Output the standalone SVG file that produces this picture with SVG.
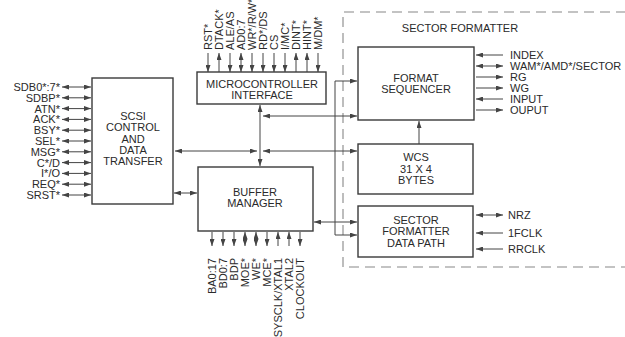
<svg xmlns="http://www.w3.org/2000/svg" width="625" height="337" viewBox="0 0 625 337">
<style>
text{font-family:"Liberation Sans",Arial,sans-serif;font-size:11px;fill:#2a2a2a}
.c{text-anchor:middle}
.e{text-anchor:end}
.box{fill:#fff;stroke:#3a3a3a;stroke-width:1.4}
.ln{stroke:#444;stroke-width:1;fill:none}
.b{marker-start:url(#ah);marker-end:url(#ah)}
.r{marker-end:url(#ah)}
.l{marker-start:url(#ah)}
.dash{fill:none;stroke:#888;stroke-width:1.1;stroke-dasharray:10 6}
</style>
<defs>
<marker id="ah" viewBox="0 0 7 5" markerWidth="7" markerHeight="5" refX="7" refY="2.5" orient="auto-start-reverse" markerUnits="userSpaceOnUse">
<path d="M0,0 L7,2.5 L0,5 z" fill="#444"/>
</marker>
</defs>
<rect width="625" height="337" fill="#fff"/>

<g id="sector-formatter">
<path class="dash" d="M626,12 H343 V267 H626"/>
<text class="c" x="460" y="32">SECTOR FORMATTER</text>
</g>

<g id="connectors">
<!-- SCSI left signals -->
<line class="ln b" x1="62" y1="87" x2="91" y2="87"/>
<line class="ln b" x1="62" y1="97.8" x2="91" y2="97.8"/>
<line class="ln b" x1="62" y1="108.6" x2="91" y2="108.6"/>
<line class="ln b" x1="62" y1="119.4" x2="91" y2="119.4"/>
<line class="ln b" x1="62" y1="130.2" x2="91" y2="130.2"/>
<line class="ln b" x1="62" y1="141" x2="91" y2="141"/>
<line class="ln b" x1="62" y1="151.8" x2="91" y2="151.8"/>
<line class="ln b" x1="62" y1="162.6" x2="91" y2="162.6"/>
<line class="ln b" x1="62" y1="173.4" x2="91" y2="173.4"/>
<line class="ln b" x1="62" y1="184.2" x2="91" y2="184.2"/>
<line class="ln b" x1="62" y1="195" x2="91" y2="195"/>
<!-- microcontroller top signals -->
<line class="ln r" x1="208" y1="53" x2="208" y2="72"/>
<line class="ln l" x1="219" y1="53" x2="219" y2="72"/>
<line class="ln r" x1="230" y1="53" x2="230" y2="72"/>
<line class="ln b" x1="241" y1="53" x2="241" y2="72"/>
<line class="ln r" x1="252" y1="53" x2="252" y2="72"/>
<line class="ln r" x1="263" y1="53" x2="263" y2="72"/>
<line class="ln r" x1="274" y1="53" x2="274" y2="72"/>
<line class="ln r" x1="285" y1="53" x2="285" y2="72"/>
<line class="ln l" x1="296" y1="53" x2="296" y2="72"/>
<line class="ln l" x1="307" y1="53" x2="307" y2="72"/>
<line class="ln r" x1="318" y1="53" x2="318" y2="72"/>
<!-- buffer bottom signals -->
<line class="ln r" x1="212" y1="232" x2="212" y2="246"/>
<line class="ln r" x1="223" y1="232" x2="223" y2="246"/>
<line class="ln r" x1="234" y1="232" x2="234" y2="246"/>
<line class="ln b" x1="245" y1="232" x2="245" y2="246"/>
<line class="ln b" x1="256" y1="232" x2="256" y2="246"/>
<line class="ln r" x1="267" y1="232" x2="267" y2="246"/>
<line class="ln l" x1="278" y1="232" x2="278" y2="246"/>
<line class="ln l" x1="289" y1="232" x2="289" y2="246"/>
<line class="ln r" x1="300" y1="232" x2="300" y2="246"/>
<!-- format sequencer right signals -->
<line class="ln l" x1="476" y1="55" x2="503" y2="55"/>
<line class="ln b" x1="476" y1="66" x2="503" y2="66"/>
<line class="ln r" x1="476" y1="77" x2="503" y2="77"/>
<line class="ln r" x1="476" y1="88" x2="503" y2="88"/>
<line class="ln l" x1="476" y1="99" x2="503" y2="99"/>
<line class="ln r" x1="476" y1="110" x2="503" y2="110"/>
<!-- data path right signals -->
<line class="ln b" x1="476" y1="215" x2="503" y2="215"/>
<line class="ln l" x1="476" y1="233" x2="503" y2="233"/>
<line class="ln l" x1="476" y1="249" x2="503" y2="249"/>
<!-- internal -->
<line class="ln b" x1="260" y1="105" x2="260" y2="166"/>
<line class="ln b" x1="263" y1="116" x2="357" y2="116"/>
<line class="ln b" x1="175" y1="151" x2="257" y2="151"/>
<line class="ln b" x1="263" y1="151" x2="357" y2="151"/>
<line class="ln b" x1="174" y1="193" x2="197" y2="193"/>
<line class="ln b" x1="314" y1="222" x2="357" y2="222"/>
<path class="ln b" d="M357,81 H335 V235 H357"/>
<line class="ln r" x1="419" y1="144" x2="419" y2="121"/>
</g>

<g id="scsi">
<rect class="box" x="92" y="78" width="81" height="126"/>
<text class="c" x="133" y="120">SCSI</text>
<text class="c" x="133" y="131.3">CONTROL</text>
<text class="c" x="133" y="142.6">AND</text>
<text class="c" x="133" y="153.9">DATA</text>
<text class="c" x="133" y="165.2">TRANSFER</text>
<text class="e" x="60" y="91">SDB0*:7*</text>
<text class="e" x="60" y="101.8">SDBP*</text>
<text class="e" x="60" y="112.6">ATN*</text>
<text class="e" x="60" y="123.4">ACK*</text>
<text class="e" x="60" y="134.2">BSY*</text>
<text class="e" x="60" y="145">SEL*</text>
<text class="e" x="60" y="155.8">MSG*</text>
<text class="e" x="60" y="166.6">C*/D</text>
<text class="e" x="60" y="177.4">I*/O</text>
<text class="e" x="60" y="188.2">REQ*</text>
<text class="e" x="60" y="199">SRST*</text>
</g>

<g id="microcontroller">
<rect class="box" x="197" y="72" width="129" height="32"/>
<text class="c" x="262" y="88">MICROCONTROLLER</text>
<text class="c" x="262" y="99.2">INTERFACE</text>
<text transform="translate(212,50) rotate(-90)">RST*</text>
<text transform="translate(223,50) rotate(-90)">DTACK*</text>
<text transform="translate(234,50) rotate(-90)">ALE/AS</text>
<text transform="translate(245,50) rotate(-90)">AD0:7</text>
<text transform="translate(256,50) rotate(-90)">WR*/R/W*</text>
<text transform="translate(267,50) rotate(-90)">RD*/DS</text>
<text transform="translate(278,50) rotate(-90)">CS</text>
<text transform="translate(289,50) rotate(-90)">I/MC*</text>
<text transform="translate(300,50) rotate(-90)">DINT*</text>
<text transform="translate(311,50) rotate(-90)">HINT*</text>
<text transform="translate(322,50) rotate(-90)">M/DM*</text>
</g>

<g id="buffer">
<rect class="box" x="198" y="167" width="115" height="64"/>
<text class="c" x="255" y="196">BUFFER</text>
<text class="c" x="255" y="207.2">MANAGER</text>
<text class="e" transform="translate(216,258) rotate(-90)">BA0:17</text>
<text class="e" transform="translate(227,258) rotate(-90)">BD0:7</text>
<text class="e" transform="translate(238,258) rotate(-90)">BDP</text>
<text class="e" transform="translate(249,258) rotate(-90)">MOE*</text>
<text class="e" transform="translate(260,258) rotate(-90)">WE*</text>
<text class="e" transform="translate(271,258) rotate(-90)">MCE*</text>
<text class="e" transform="translate(282,258) rotate(-90)">SYSCLK/XTAL1</text>
<text class="e" transform="translate(293,258) rotate(-90)">XTAL2</text>
<text class="e" transform="translate(304,258) rotate(-90)">CLOCKOUT</text>
</g>

<g id="format-sequencer">
<rect class="box" x="358" y="47" width="116" height="73"/>
<text class="c" x="416" y="82">FORMAT</text>
<text class="c" x="416" y="93.2">SEQUENCER</text>
<text x="510" y="59">INDEX</text>
<text x="510" y="70">WAM*/AMD*/SECTOR</text>
<text x="510" y="81">RG</text>
<text x="510" y="92">WG</text>
<text x="510" y="103">INPUT</text>
<text x="510" y="114">OUPUT</text>
</g>

<g id="wcs">
<rect class="box" x="358" y="144" width="115" height="50"/>
<text class="c" x="416" y="161">WCS</text>
<text class="c" x="416" y="172.5">31 X 4</text>
<text class="c" x="416" y="184">BYTES</text>
</g>

<g id="data-path">
<rect class="box" x="358" y="206" width="115" height="51"/>
<text class="c" x="416" y="223.5">SECTOR</text>
<text class="c" x="416" y="235">FORMATTER</text>
<text class="c" x="416" y="246.5">DATA PATH</text>
<text x="508" y="219">NRZ</text>
<text x="508" y="237">1FCLK</text>
<text x="508" y="253">RRCLK</text>
</g>
</svg>
